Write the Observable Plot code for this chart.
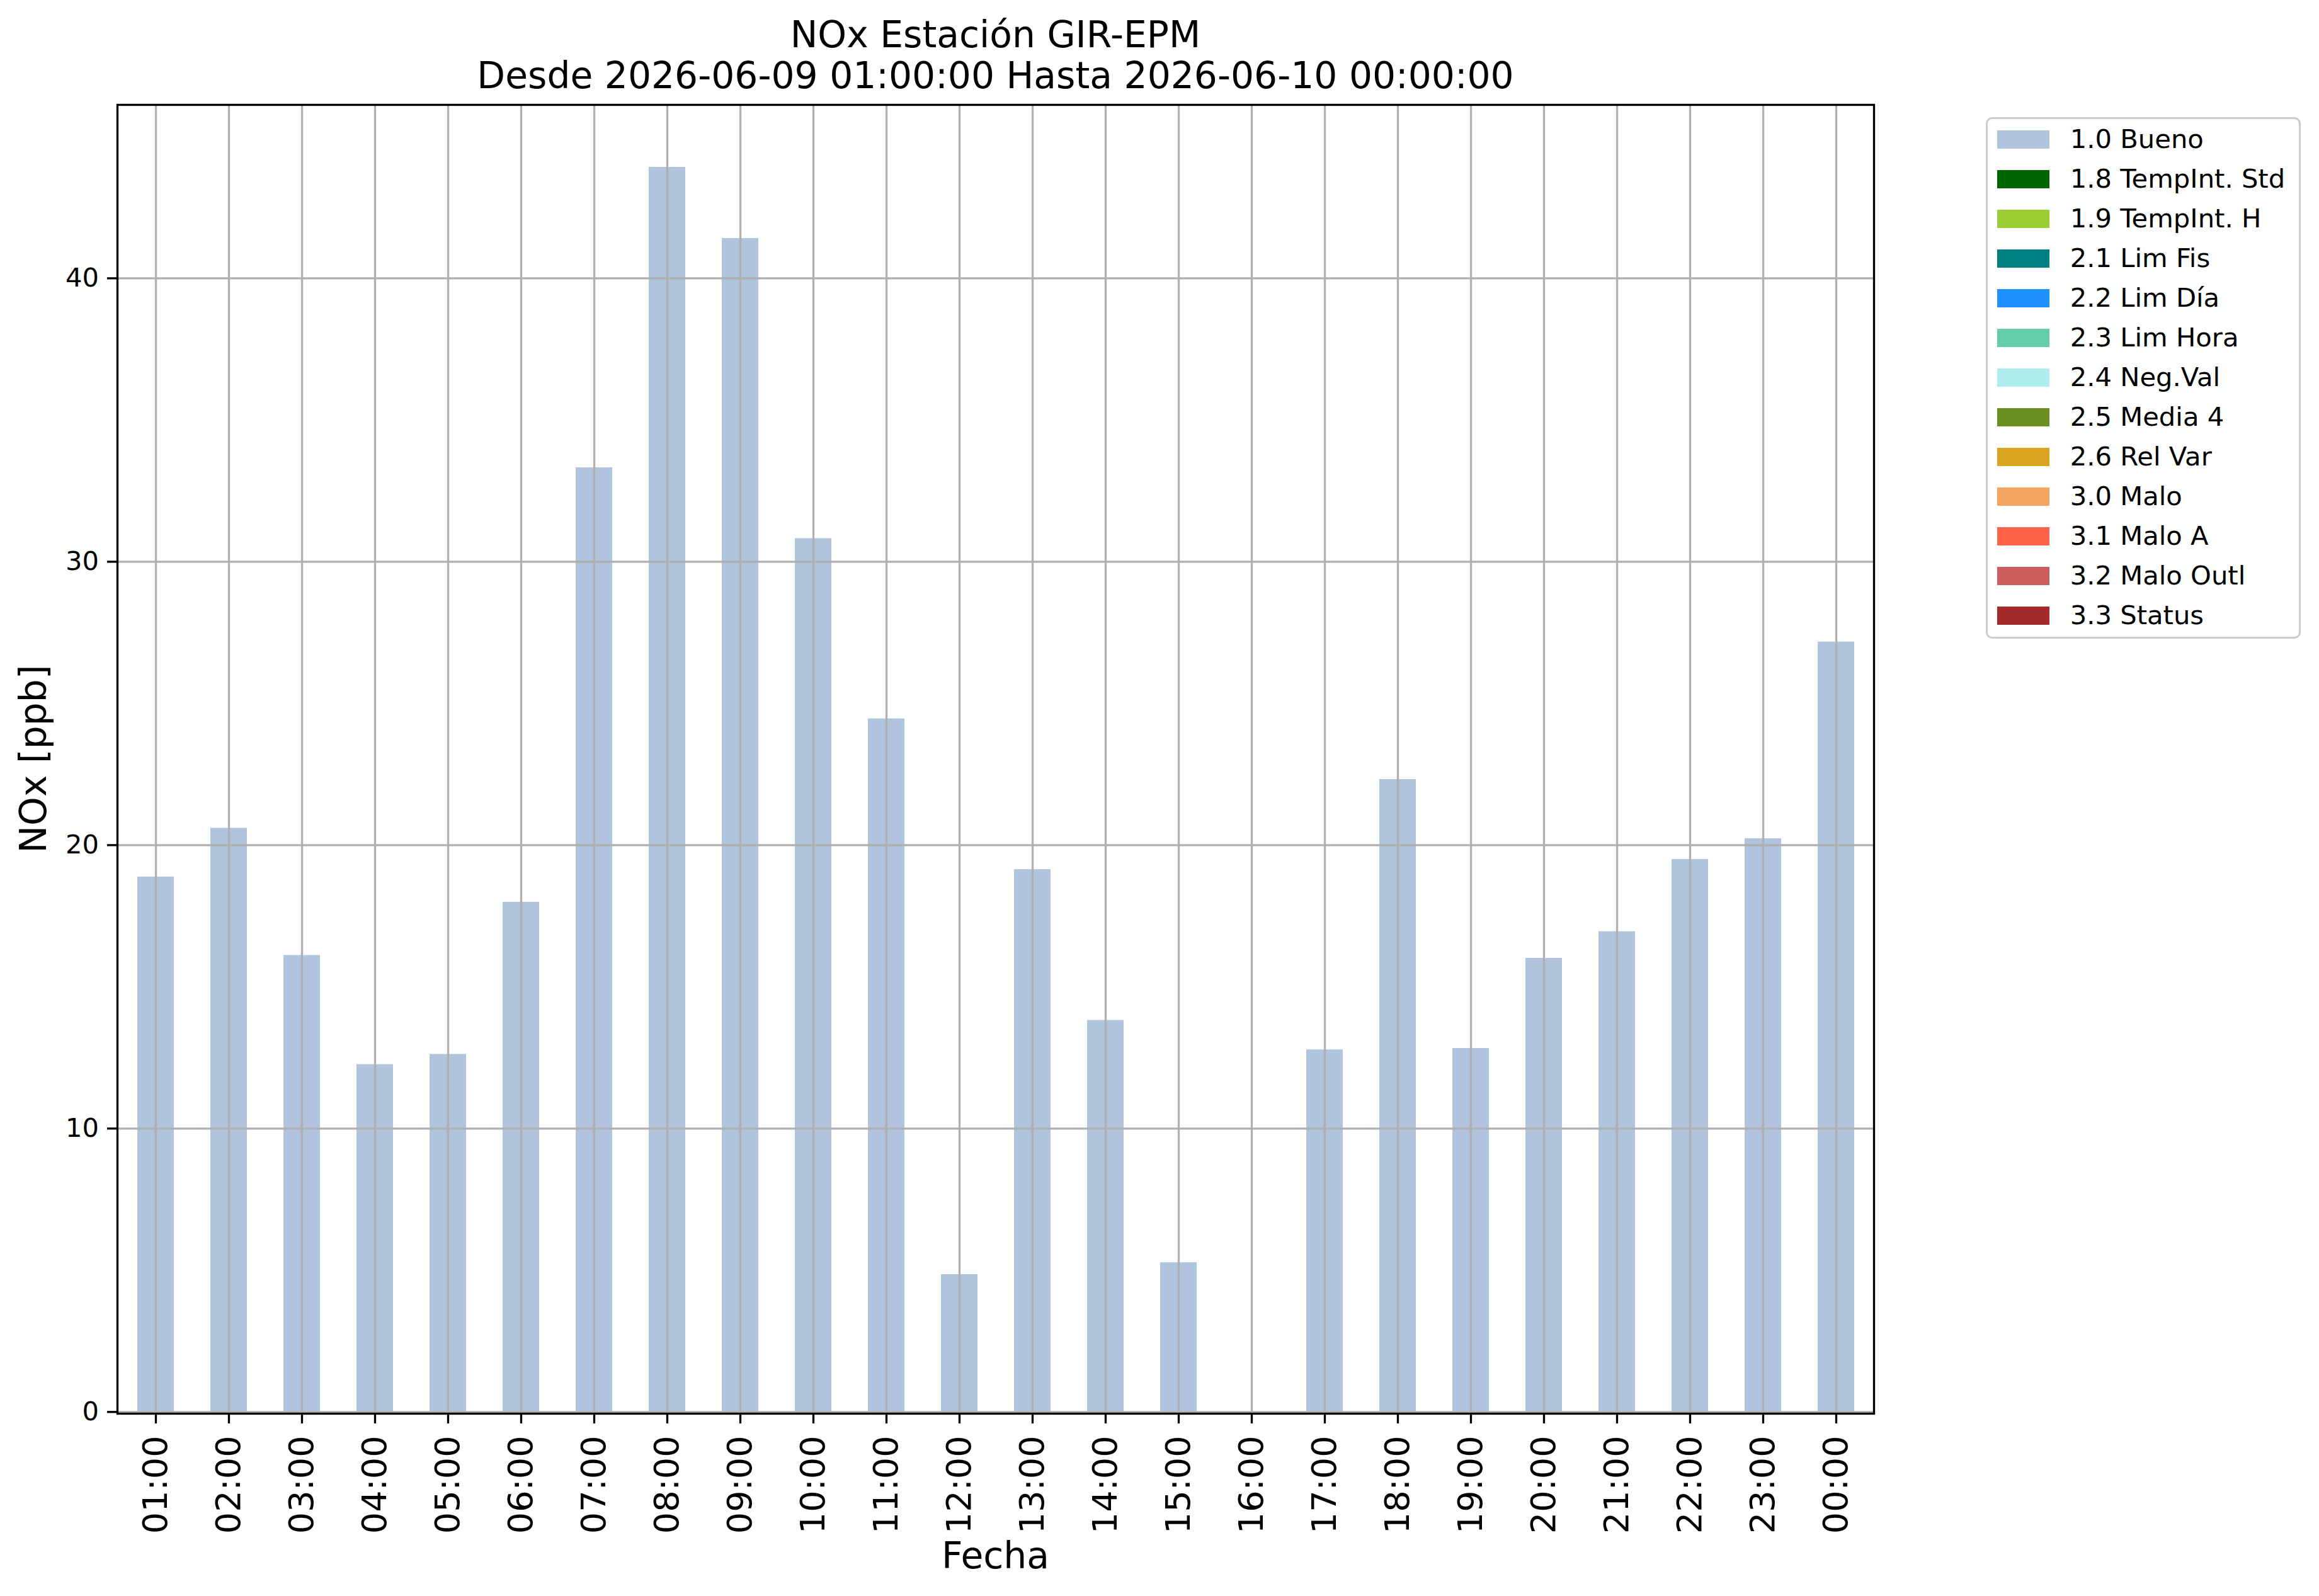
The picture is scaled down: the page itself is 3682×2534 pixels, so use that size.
<!DOCTYPE html>
<html>
<head>
<meta charset="utf-8">
<script src="https://cdn.jsdelivr.net/npm/d3@7"></script>
<script src="https://cdn.jsdelivr.net/npm/@observablehq/plot@0.6"></script>
<style>
  html, body { margin: 0; padding: 0; background: #ffffff; }
  #fig { position: relative; width: 3682px; height: 2534px; font-family: "DejaVu Sans", sans-serif; color: #000; overflow: hidden; }
  #fig svg { position: absolute; left: 0; top: 0; }
  .title { position: absolute; left: 1580.5px; top: 23.3px; transform: translateX(-50%); font-size: 58.3px; line-height: 65px; text-align: center; white-space: nowrap; }
  .xlabel { position: absolute; left: 1580.5px; top: 2437px; transform: translateX(-50%); font-size: 58.3px; line-height: 1.164; white-space: nowrap; }
  .ylabel { position: absolute; left: 53.8px; top: 1205px; transform: translate(-50%, -50%) rotate(-90deg); font-size: 58.3px; line-height: 1.164; white-space: nowrap; }
  .legend { position: absolute; left: 3153px; top: 186px; width: 500px; height: 828px; box-sizing: border-box; border: 3.3px solid #cccccc; border-radius: 10px; background: rgba(255,255,255,0.8); padding-top: 0.7px; }
  .row { height: 63px; display: flex; align-items: center; }
  .sw { width: 83px; height: 29px; margin-left: 14.7px; flex: none; }
  .lab { margin-left: 33px; font-size: 41.7px; line-height: 1.164; white-space: nowrap; }
</style>
</head>
<body>
<div id="fig"></div>
<script>
// ---- data ----
const hours = ["01:00","02:00","03:00","04:00","05:00","06:00","07:00","08:00","09:00","10:00","11:00","12:00",
               "13:00","14:00","15:00","16:00","17:00","18:00","19:00","20:00","21:00","22:00","23:00","00:00"];
const noxValues = [18.88, 20.6, 16.11, 12.26, 12.62, 17.99, 33.32, 43.92, 41.41, 30.82, 24.46, 4.85,
                   19.14, 13.82, 5.27, 0, 12.78, 22.32, 12.83, 16.01, 16.95, 19.5, 20.23, 27.17];
const yTicks = [0, 10, 20, 30, 40];
const legendLabels = ["1.0 Bueno","1.8 TempInt. Std","1.9 TempInt. H","2.1 Lim Fis","2.2 Lim Día","2.3 Lim Hora",
                      "2.4 Neg.Val","2.5 Media 4","2.6 Rel Var","3.0 Malo","3.1 Malo A","3.2 Malo Outl","3.3 Status"];
const legendColors = ["#b0c4de","#006400","#9acd32","#008080","#1e90ff","#66cdaa",
                      "#afeeee","#6b8e23","#daa520","#f4a460","#ff6347","#cd5c5c","#a52a2a"];
const titleLines = ["NOx Estación GIR-EPM", "Desde 2026-06-09 01:00:00 Hasta 2026-06-10 00:00:00"];
const xLabel = "Fecha";
const yLabel = "NOx [ppb]";

const data = hours.map((h, i) => ({hour: h, value: noxValues[i]}));

const fig = document.getElementById("fig");

const chart = Plot.plot({
  width: 3682,
  height: 2534,
  marginLeft: 186,
  marginRight: 707,
  marginTop: 166,
  marginBottom: 290,
  style: {fontFamily: "DejaVu Sans, sans-serif", color: "#000", background: "transparent", overflow: "visible"},
  x: {type: "band", domain: hours, paddingInner: 0.5, paddingOuter: 0.25, align: 0.5},
  y: {domain: [-0.06, 46.12]},
  marks: [
    Plot.barY(data, {x: "hour", y: "value", fill: legendColors[0], inset: 0}),
    Plot.gridX(hours, {stroke: "#b0b0b0", strokeOpacity: 1, strokeWidth: 3.3}),
    Plot.gridY(yTicks, {stroke: "#b0b0b0", strokeOpacity: 1, strokeWidth: 3.3}),
    Plot.frame({stroke: "#000", strokeWidth: 3.3}),
    Plot.axisX(hours, {anchor: "bottom", label: null, tickSize: 16, tickPadding: 19, tickRotate: -90,
                       fontSize: 54, strokeWidth: 3.3, fill: "#000"}),
    Plot.axisY(yTicks, {anchor: "left", label: null, tickSize: 16, tickPadding: 13.5,
                        fontSize: 41.7, strokeWidth: 3.3, fill: "#000"})
  ]
});
fig.appendChild(chart);

// title
const t = document.createElement("div");
t.className = "title";
t.innerHTML = titleLines.map(s => `<div>${s}</div>`).join("");
fig.appendChild(t);

// axis labels
const xl = document.createElement("div");
xl.className = "xlabel";
xl.textContent = xLabel;
fig.appendChild(xl);
const yl = document.createElement("div");
yl.className = "ylabel";
yl.textContent = yLabel;
fig.appendChild(yl);

// legend
const lg = document.createElement("div");
lg.className = "legend";
legendLabels.forEach((lab, i) => {
  const r = document.createElement("div");
  r.className = "row";
  const sw = document.createElement("div");
  sw.className = "sw";
  sw.style.background = legendColors[i];
  const tx = document.createElement("div");
  tx.className = "lab";
  tx.textContent = lab;
  r.appendChild(sw);
  r.appendChild(tx);
  lg.appendChild(r);
});
fig.appendChild(lg);
</script>
</body>
</html>
